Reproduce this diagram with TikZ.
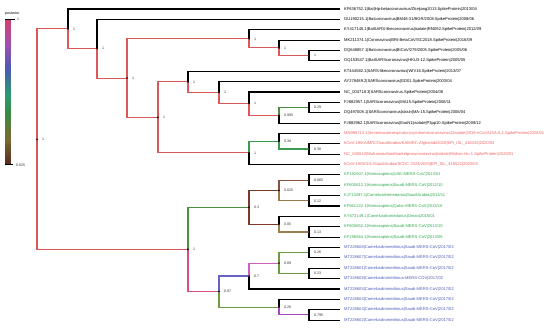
\documentclass[tikz,border=0pt]{standalone}
\usepackage{fontspec}
\setmainfont{Liberation Sans}
\definecolor{cA}{HTML}{DC5858}
\definecolor{c097}{HTML}{D8507A}
\definecolor{c089}{HTML}{D060C0}
\definecolor{c0795}{HTML}{A848C0}
\definecolor{c07}{HTML}{6A62C0}
\definecolor{c038}{HTML}{3A9A50}
\definecolor{c03}{HTML}{4A9040}
\definecolor{c026}{HTML}{6E9A40}
\definecolor{c013}{HTML}{9A8050}
\definecolor{c012}{HTML}{9A7A4C}
\definecolor{c0065}{HTML}{8A5040}
\definecolor{c005}{HTML}{803828}
\definecolor{c0025}{HTML}{7A3A28}
\definecolor{tred}{HTML}{F06060}
\definecolor{tgreen}{HTML}{2AA84A}
\definecolor{tblue}{HTML}{4A5AB8}
\definecolor{b0}{HTML}{5A2A20}
\definecolor{b1}{HTML}{7A6A30}
\definecolor{b2}{HTML}{3A8A40}
\definecolor{b3}{HTML}{2A9A70}
\definecolor{b4}{HTML}{4A5AB0}
\definecolor{b5}{HTML}{A050B0}
\definecolor{b6}{HTML}{D04070}
\begin{document}
\begin{tikzpicture}[x=1pt,y=-1pt,
  br/.style={line width=1.1pt},
  tipline/.style={line width=1.1pt,black},
  tiplab/.style={anchor=west,inner sep=0pt,font=\fontsize{4.1}{4.5}\selectfont},
  nlab/.style={anchor=west,inner sep=0pt,font=\fontsize{3.6}{4}\selectfont,text=black!80},
  dotm/.style={fill=black,draw=none,circle,inner sep=0pt,minimum size=1.8pt}]
\useasboundingbox (0,0) rectangle (550,328);
% colour bar
\node[anchor=west,inner sep=0pt,font=\fontsize{3.6}{4}\selectfont] (postlab) at (5,14) {posterior};
\foreach \ya/\yb/\ca/\cb in {19/44/b6/b5,44/69/b5/b4,69/94/b4/b3,94/114/b3/b2,114/139/b2/b1,139/164/b1/b0}{
  \foreach \k in {0,...,19}{
    \pgfmathsetmacro\yy{\ya+(\yb-\ya)*\k/20}
    \pgfmathsetmacro\yz{\ya+(\yb-\ya)*(\k+1)/20+0.4}
    \pgfmathtruncatemacro\pp{100-5*\k}
    \fill[\ca!\pp!\cb] (5,\yy) rectangle (11,\yz);
  }
}
\coordinate (bt1) at (5,19); \coordinate (bt2) at (15,19);
\coordinate (bb1) at (5,164); \coordinate (bb2) at (13,164);
\draw[line width=0.6pt] (bt1) -- (bt2);
\draw[line width=0.6pt] (bb1) -- (bb2);
\node[nlab] (one) at (17,19) {1};
\node[nlab] (low) at (16,165) {0.025};
% tips
\foreach \i/\y in {1/9.0,2/19.37,3/29.74,4/40.11,5/50.48,6/60.85,7/71.22,8/81.59,9/91.96,10/102.33,11/112.7,12/123.07,13/133.44,14/143.81,15/154.18,16/164.55,17/174.92,18/185.29,19/195.66,20/206.03,21/216.4,22/226.77,23/237.14,24/247.51,25/257.88,26/268.25,27/278.62,28/288.99,29/299.36,30/309.73,31/320.1}
  {\coordinate (t\i) at (340,\y);}
% internal nodes
\foreach \n/\x/\y in {A/309/55.67,B/279/47.89,C/249/38.8,D/309/107.5,E/279/115.3,F/249/103.6,G/219/92.6,H/188/81.9,I/309/149,J/279/141.2,K/249/152.9,L/158/117.4,M/127/78.1,N/97/48.7,O/68/28.9,P/309/180.1,Q/309/200.85,R/279/190.5,S/309/231.96,T/279/224.2,U/249/207.3,V/309/252.7,W/309/273.4,X/279/263.1,Y/249/276.0,Z/309/314.9,AA/279/307.1,AB/219/291.6,AC/188/249.4,root/37/139.2}
  {\coordinate (\n) at (\x,\y);}
% tip branches
\foreach \p/\t in {O/1,N/2,C/3,B/4,A/5,A/6,H/7,G/8,F/9,D/10,D/11,E/12,J/13,I/14,I/15,K/16,P/17,P/18,Q/19,Q/20,T/21,S/22,S/23,V/24,V/25,W/26,W/27,Y/28,AA/29,Z/30,Z/31}
  {\draw[tipline] (\p) |- (t\t);}
% internal branches
\foreach \p/\c/\col in {root/O/cA,root/AC/cA,O/N/cA,N/M/cA,M/C/cA,C/B/cA,B/A/cA,M/L/cA,L/H/cA,H/G/cA,G/F/cA,F/E/cA,E/D/c03,L/K/cA,K/J/c038,J/I/c038,AC/U/c03,U/R/c0025,R/P/c0065,R/Q/c012,U/T/c005,T/S/c013,AC/AB/c097,AB/Y/c07,Y/X/c089,X/V/c026,X/W/c026,AB/AA/c026,AA/Z/c0795}
  {\draw[br,\col] (\p) |- (\c);}
% node markers and labels
\foreach \n/\v in {A/1,B/1,C/1,D/0.29,E/0.995,F/1,G/1,H/1,I/0.38,J/0.38,K/1,L/1,M/1,N/1,O/1,P/0.065,Q/0.12,R/0.025,S/0.13,T/0.05,U/0.3,V/0.26,W/0.23,X/0.89,Y/0.7,Z/0.795,AA/0.26,AB/0.97,AC/1,root/1}
  {\node[dotm] (m\n) at (\n) {}; \node[nlab] (l\n) at ([xshift=5pt]\n) {\v};}
% tip labels
\foreach \i/\txt in {1/{KF636752.1|Bat|Hp-betacoronavirus/Zhejiang2013.SpikeProtein|2013/04},
 2/{GU190215.1|Batcoronavirus|BM48-31/BGR/2008.SpikeProtein|2008/06},
 3/{KY417145.1|BatSARS-likecoronavirus|isolate|Rf4092.SpikeProtein|2012/09},
 4/{MK211374.1|Coronavirus|BRt-BetaCoV/SC2018.SpikeProtein|2016/09},
 5/{DQ648857.1|Batcoronavirus|BtCoV/279/2005.SpikeProtein|2005/06},
 6/{GQ153547.1|BatSARScoronavirus|HKU3-12.SpikeProtein|2005/05},
 7/{KT444582.1|SARS-likecoronavirus|WIV16.SpikeProtein|2013/07},
 8/{AY278489.2|SARScoronavirus|GD01.SpikeProtein|2003/04},
 9/{NC\_004718.3|SARScoronavirus.SpikeProtein|2004/08},
 10/{FJ882957.1|SARScoronavirus|MA15.SpikeProtein|2008/11},
 11/{DQ497008.1|SARScoronavirus|strain|MA-15.SpikeProtein|2006/04},
 12/{FJ882962.1|SARScoronavirus|ExoN1|isolate|P3pp10.SpikeProtein|2009/12}}
  {\node[tiplab] (lab\i) at ([xshift=4pt]t\i) {\txt};}
\foreach \i/\txt in {13/{MN985713.1|Severeacuterespiratorysyndromecoronavirus2|isolate|2019-nCoV/USA-IL1.SpikeProtein|2020/01},
 14/{hCoV-19/KAIMRC/SaudiArabia/KAIMRC-Alghamdi/2020|EPI\_ISL\_418432|2020/03},
 15/{NC\_045512|Wuhanseafoodmarketpneumoniavirus|isolate|Wuhan-Hu-1.SpikeProtein|2020/01},
 16/{hCoV-19/SCDC/SaudiArabia/SCDC-3324/2020|EPI\_ISL\_416522|2020/03}}
  {\node[tiplab,text=tred] (lab\i) at ([xshift=4pt]t\i) {\txt};}
\foreach \i/\txt in {17/{KF192507.1|Homosapiens|UAE-MERS-CoV|2013/01},
 18/{KF600612.1|Homosapiens|Saudi-MERS-CoV|2012/10},
 19/{KJ713297.1|Camelusdromedarius|SaudiArabia|2013/11},
 20/{KF961222.1|Homosapiens|Qatar-MERS-CoV|2013/10},
 21/{KY673149.1|Camelusdromedarius|Oman|2015/01},
 22/{KF600652.1|Homosapiens|Saudi-MERS-CoV|2013/10},
 23/{KF186564.1|Homosapiens|Saudi-MERS-CoV|2013/05}}
  {\node[tiplab,text=tgreen] (lab\i) at ([xshift=4pt]t\i) {\txt};}
\foreach \i/\txt in {24/{MT228606|Camelusdromedrious|Saudi-MERS-CoV|2017/02},
 25/{MT228607|Camelusdromedrious|Saudi-MERS-CoV|2017/02},
 26/{MT228601|Camelusdromedrious|Saudi-MERS-CoV|2017/02},
 27/{MT228608|Camelusdromedrious-MERS-COV|2017/02},
 28/{MT228605|Camelusdromedrious|Saudi-MERS-CoV|2017/02},
 29/{MT228604|Camelusdromedrious|Saudi-MERS-CoV|2017/02},
 30/{MT228603|Camelusdromedrious|Saudi-MERS-CoV|2017/02},
 31/{MT228602|Camelusdromedrious|Saudi-MERS-CoV|2017/02}}
  {\node[tiplab,text=tblue] (lab\i) at ([xshift=4pt]t\i) {\txt};}
\end{tikzpicture}
\end{document}
